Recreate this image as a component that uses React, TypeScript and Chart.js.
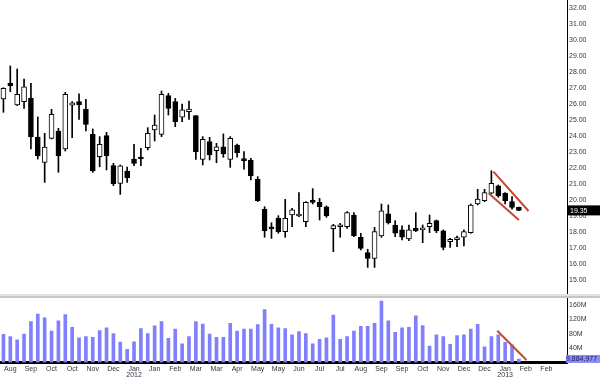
import { useEffect, useRef } from 'react';
import { Chart, registerables } from 'chart.js';
Chart.register(...registerables);

const opens = [26.31, 27.31, 25.94, 26.15, 26.35, 23.94, 22.35, 23.85, 24.31, 23.19, 25.92, 26.15, 25.69, 24.10, 22.71, 24.02, 22.15, 21.04, 21.81, 22.56, 22.67, 23.27, 24.38, 24.10, 26.52, 26.15, 25.17, 25.52, 25.27, 22.54, 23.65, 23.08, 23.33, 22.54, 23.44, 22.48, 22.50, 21.29, 19.42, 18.23, 18.85, 18.02, 19.06, 19.00, 18.65, 19.96, 19.85, 19.58, 18.21, 18.33, 18.33, 19.06, 17.67, 16.71, 16.35, 17.75, 19.13, 18.44, 18.13, 17.56, 18.23, 18.13, 18.33, 18.71, 18.08, 17.40, 17.52, 17.67, 17.96, 19.75, 19.96, 20.42, 20.88, 20.42, 19.90, 19.54];
const highs = [27.02, 28.38, 28.19, 27.56, 27.29, 25.19, 24.17, 25.67, 24.48, 26.73, 26.15, 26.63, 26.29, 24.44, 23.96, 24.23, 22.29, 22.19, 22.06, 23.48, 23.23, 24.52, 25.31, 26.81, 26.67, 26.35, 26.00, 26.19, 25.27, 23.96, 23.92, 23.54, 24.13, 23.96, 23.50, 23.02, 22.60, 21.46, 19.58, 18.58, 19.02, 20.04, 19.48, 20.46, 19.90, 20.71, 20.10, 19.63, 18.48, 18.54, 19.27, 19.21, 17.92, 16.92, 18.29, 19.75, 19.69, 18.71, 18.38, 18.44, 19.21, 18.44, 19.06, 18.75, 18.13, 17.60, 17.75, 18.13, 19.75, 20.67, 20.67, 21.83, 20.94, 20.46, 20.21, 19.56];
const lows = [25.48, 26.77, 25.90, 25.73, 23.19, 22.56, 21.10, 23.81, 21.73, 23.06, 23.90, 25.04, 24.31, 21.73, 22.08, 21.88, 20.90, 20.35, 21.10, 22.15, 22.15, 23.13, 23.69, 23.96, 25.31, 24.58, 24.90, 25.04, 22.54, 22.19, 22.50, 22.33, 22.67, 22.04, 22.67, 21.92, 21.25, 19.90, 17.67, 17.60, 17.92, 17.67, 18.33, 18.96, 18.33, 19.75, 18.75, 18.92, 16.77, 17.67, 18.23, 17.71, 16.88, 15.79, 15.79, 17.67, 18.50, 17.71, 17.50, 17.46, 18.02, 17.33, 17.96, 17.96, 16.88, 17.04, 17.08, 17.13, 17.92, 19.69, 19.90, 20.38, 20.17, 19.75, 19.42, 19.33];
const closes = [26.98, 27.15, 26.60, 27.08, 23.96, 22.75, 23.31, 25.35, 22.75, 26.60, 26.08, 25.94, 24.73, 21.81, 23.48, 22.77, 21.02, 22.13, 21.40, 22.29, 22.56, 24.17, 24.69, 26.60, 25.73, 24.90, 25.63, 25.69, 23.02, 23.79, 22.81, 23.33, 22.88, 23.85, 22.96, 22.46, 21.50, 19.96, 18.08, 18.20, 18.02, 18.85, 19.38, 19.10, 19.85, 19.85, 19.58, 19.00, 18.40, 18.35, 19.21, 17.77, 16.98, 16.35, 18.02, 19.33, 18.58, 17.92, 17.67, 18.13, 18.06, 18.23, 18.54, 18.06, 17.04, 17.54, 17.54, 18.02, 19.69, 20.06, 20.46, 21.04, 20.25, 19.96, 19.54, 19.35];
const volumesM = [78.7, 72, 63, 79.5, 114, 135, 125, 88, 116, 134, 98, 69, 72, 70, 89, 97, 81, 57, 37, 58, 95, 81, 102, 114, 67.5, 93, 52, 72, 114, 107, 79.5, 70, 70, 109, 88, 93.5, 93.5, 105.5, 148, 106.5, 97, 95, 77, 86, 81, 52, 65, 69, 132.5, 65, 72, 88, 101, 101, 109, 171.6, 116, 84, 97, 98, 130, 103, 46, 77, 72, 51, 75, 77, 93, 106.5, 44, 72, 77, 56, 49, 9.884977];
const monthLabels = ['Aug', 'Sep', 'Oct', 'Oct', 'Nov', 'Dec', 'Jan', 'Jan', 'Feb', 'Mar', 'Mar', 'Apr', 'May', 'May', 'Jun', 'Jul', 'Jul', 'Aug', 'Sep', 'Sep', 'Oct', 'Nov', 'Dec', 'Dec', 'Jan', 'Feb', 'Feb'];
const yearLabels = ['', '', '', '', '', '', '2012', '', '', '', '', '', '', '', '', '', '', '', '', '', '', '', '', '', '2013', '', ''];
const priceTicks = [15, 16, 17, 18, 19, 20, 21, 22, 23, 24, 25, 26, 27, 28, 29, 30, 31, 32];
const volumeTicksM = [40, 80, 120, 160];
const upperTrend = [{ x: 71.3, y: 21.77 }, { x: 76.4, y: 19.31 }];
const lowerTrend = [{ x: 70.6, y: 20.42 }, { x: 75.0, y: 18.75 }];
const volumeTrendM = [{ x: 71.85, y: 88.7 }, { x: 76.1, y: 7 }];

const FONT = '"Liberation Sans", Arial, sans-serif';
const TXT = '#34343f';
const RED = '#c8472f';

export default function App() {
  const ref = useRef<HTMLCanvasElement>(null);
  useEffect(() => {
    Chart.defaults.font.family = FONT;
    const idx = closes.map((_, i) => i);
    const bodyColors = closes.map((c, i) => (c >= opens[i] ? '#ffffff' : '#000000'));
    const overlay = {
      id: 'overlay',
      afterDraw(chart: any) {
        const { ctx, chartArea, scales } = chart;
        const ys = scales.y;
        const vs = scales.v;
        ctx.save();
        const yb = ys.bottom;
        ctx.fillStyle = '#e2e2e2';
        ctx.fillRect(0, yb - 2, chart.width, 2);
        ctx.fillStyle = '#c6c6c6';
        ctx.fillRect(0, yb, chart.width, 2);
        const last = closes[closes.length - 1];
        const py = ys.getPixelForValue(last);
        ctx.fillStyle = '#000';
        ctx.fillRect(chartArea.right, py - 5, chart.width - chartArea.right, 10);
        ctx.fillStyle = '#fff';
        ctx.font = '7px ' + FONT;
        ctx.textBaseline = 'middle';
        ctx.textAlign = 'left';
        ctx.fillText(last.toFixed(2), chartArea.right + 3, py + 0.5);
        const lastV = volumesM[volumesM.length - 1] * 1e6;
        const vy = vs.getPixelForValue(lastV);
        ctx.fillStyle = '#8c8cff';
        ctx.fillRect(chartArea.right - 1, vy - 4, chart.width - chartArea.right + 1, 8);
        ctx.fillStyle = '#22224a';
        ctx.fillText(Math.round(lastV).toLocaleString('en-US'), chartArea.right - 1, vy + 0.5);
        ctx.restore();
      },
    };
    const chart = new Chart(ref.current as HTMLCanvasElement, {
      type: 'bar',
      data: {
        datasets: [
          { type: 'line', label: 'upper', data: upperTrend, xAxisID: 'x', yAxisID: 'y', borderColor: RED, borderWidth: 2, pointRadius: 0, fill: false, order: 0 } as any,
          { type: 'line', label: 'lower', data: lowerTrend, xAxisID: 'x', yAxisID: 'y', borderColor: RED, borderWidth: 2, pointRadius: 0, fill: false, order: 0 } as any,
          { type: 'line', label: 'vtrend', data: volumeTrendM.map((p) => ({ x: p.x, y: p.y * 1e6 })), xAxisID: 'x', yAxisID: 'v', borderColor: RED, borderWidth: 2, pointRadius: 0, fill: false, order: 0 } as any,
          { type: 'bar', label: 'body', data: idx.map((i) => ({ x: i, y: [opens[i], closes[i]] })), xAxisID: 'x', yAxisID: 'y', backgroundColor: bodyColors, borderColor: '#000', borderWidth: 1, borderSkipped: false, barThickness: 5, minBarLength: 2, grouped: false, order: 1 } as any,
          { type: 'bar', label: 'wick', data: idx.map((i) => ({ x: i, y: [lows[i], highs[i]] })), xAxisID: 'x', yAxisID: 'y', backgroundColor: '#000', borderWidth: 0, barThickness: 1, grouped: false, order: 2 } as any,
          { type: 'bar', label: 'volume', data: idx.map((i) => ({ x: i, y: volumesM[i] * 1e6 })), xAxisID: 'x', yAxisID: 'v', backgroundColor: '#8080ff', borderWidth: 0, barThickness: 3, grouped: false, order: 3 } as any,
        ],
      },
      options: {
        responsive: false,
        animation: false,
        layout: { padding: 0 },
        plugins: { legend: { display: false }, tooltip: { enabled: false } },
        scales: {
          y: {
            type: 'linear',
            position: 'right',
            stack: 'main',
            stackWeight: 296,
            bounds: 'data',
            min: 14,
            max: 32.5,
            grid: { display: false, drawTicks: false },
            border: { display: true, color: '#000', width: 1 },
            ticks: { color: TXT, font: { size: 7 }, padding: 2, autoSkip: false, callback: (v: any) => Number(v).toFixed(2) },
            afterBuildTicks: (s: any) => { s.ticks = priceTicks.map((v) => ({ value: v })); },
            afterFit: (s: any) => { s.width = 33; s.paddingTop = 0; s.paddingBottom = 0; },
          },
          v: {
            type: 'linear',
            position: 'right',
            stack: 'main',
            stackWeight: 66.5,
            bounds: 'data',
            min: 0,
            max: 185.6e6,
            grid: { display: false, drawTicks: false },
            border: { display: true, color: '#000', width: 1 },
            ticks: { color: TXT, font: { size: 7 }, padding: 2, autoSkip: false, callback: (v: any) => Math.round(Number(v) / 1e6) + 'M' },
            afterBuildTicks: (s: any) => { s.ticks = volumeTicksM.map((v) => ({ value: v * 1e6 })); },
            afterFit: (s: any) => { s.width = 33; s.paddingTop = 0; s.paddingBottom = 0; },
          },
          x: {
            type: 'linear',
            position: 'bottom',
            bounds: 'data',
            offset: false,
            min: -0.5,
            max: 82,
            grid: { display: false, drawTicks: false, offset: false },
            border: { display: true, color: '#000', width: 3 },
            ticks: {
              color: TXT,
              font: { size: 7, lineHeight: 0.9 },
              padding: 3,
              autoSkip: false,
              maxRotation: 0,
              callback: (v: any) => {
                const k = Math.round((Number(v) - 1) / 3);
                const m = monthLabels[k] ?? '';
                const yr = yearLabels[k];
                return yr ? [m, yr] : m;
              },
            },
            afterBuildTicks: (s: any) => { s.ticks = monthLabels.map((_, k) => ({ value: 1 + 3 * k })); },
            afterFit: (s: any) => { s.height = 17.5; s.paddingLeft = 0; s.paddingRight = 0; },
          },
        },
      } as any,
      plugins: [overlay],
    });
    return () => chart.destroy();
  }, []);
  return (
    <div style={{ position: 'absolute', left: 0, top: 0, width: 600, height: 380, background: '#fff' }}>
      <canvas ref={ref} width={600} height={380} style={{ display: 'block' }} />
    </div>
  );
}
